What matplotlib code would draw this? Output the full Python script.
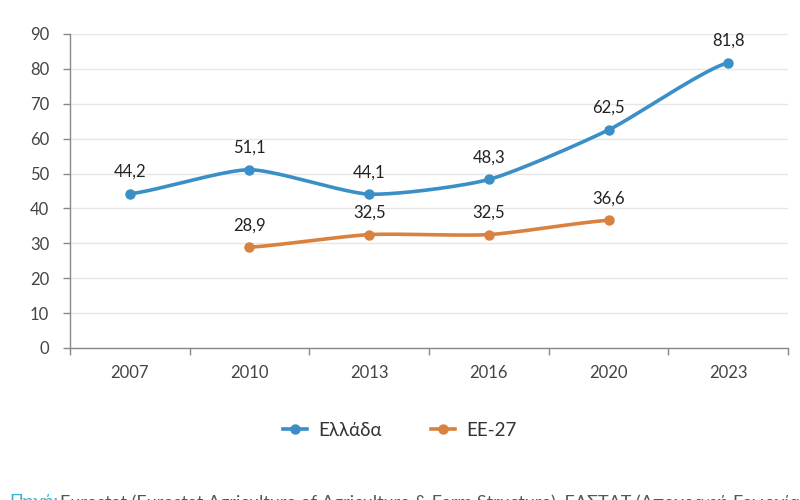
import numpy as np
import matplotlib
matplotlib.use("Agg")
import matplotlib.pyplot as plt
from matplotlib.lines import Line2D

years = ["2007", "2010", "2013", "2016", "2020", "2023"]
greece = [44.2, 51.1, 44.1, 48.3, 62.5, 81.8]
eu27 = [None, 28.9, 32.5, 32.5, 36.6, None]
series_names = ["Ελλάδα", "ΕΕ-27"]
colors = ["#3a8fc7", "#d9823f"]
yticks = [0, 10, 20, 30, 40, 50, 60, 70, 80, 90]

plt.rcParams['font.family'] = ['Lato', 'DejaVu Sans']

def smooth(xs, ys, n=40, tension=0.32):
    xs = np.asarray(xs, float); ys = np.asarray(ys, float)
    px = np.concatenate([[2*xs[0]-xs[1]], xs, [2*xs[-1]-xs[-2]]])
    py = np.concatenate([[ys[0]], ys, [ys[-1]]])
    outx, outy = [], []
    for i in range(1, len(px)-2):
        t = np.linspace(0, 1, n)
        p0, p1, p2, p3 = [np.array([px[j], py[j]]) for j in (i-1, i, i+1, i+2)]
        m1 = tension*(p2-p0); m2 = tension*(p3-p1)
        h00 = 2*t**3-3*t**2+1; h10 = t**3-2*t**2+t
        h01 = -2*t**3+3*t**2; h11 = t**3-t**2
        pts = np.outer(h00, p1)+np.outer(h10, m1)+np.outer(h01, p2)+np.outer(h11, m2)
        outx.extend(pts[:, 0]); outy.extend(pts[:, 1])
    return np.array(outx), np.array(outy)

fig = plt.figure(figsize=(8, 5), dpi=100)
ax = fig.add_axes([70/800, 1-348/500, 718/800, (348-34)/500])

x = np.arange(len(years))
for vals, name, c in zip([greece, eu27], series_names, colors):
    idx = [i for i, v in enumerate(vals) if v is not None]
    xv = x[idx]; yv = [vals[i] for i in idx]
    sx, sy = smooth(xv, yv)
    ax.plot(sx, sy, color=c, lw=2.6, solid_capstyle='round', zorder=3)
    ax.plot(xv, yv, 'o', color=c, ms=6.5, zorder=4)
    for xi, yi in zip(xv, yv):
        ax.annotate(f"{yi:.1f}".replace('.', ','), (xi, yi), xytext=(0, 10),
                    textcoords='offset points', ha='center', va='bottom',
                    fontsize=12, color='#222222', zorder=5)

ax.set_xlim(-0.5, len(years)-0.5)
ax.set_ylim(0, 90)
ax.set_yticks(yticks)
ax.set_yticklabels([str(v) for v in yticks], fontsize=12, color='#444444')
ax.set_xticks(x)
ax.set_xticklabels(years, fontsize=12, color='#444444')
ax.set_xticks(np.arange(-0.5, len(years)), minor=True)
ax.tick_params(axis='x', which='major', length=0, pad=12)
ax.tick_params(axis='x', which='minor', length=5, color='#888888', width=1)
ax.tick_params(axis='y', length=5, color='#888888', width=1, pad=10)
ax.yaxis.grid(True, color='#e6e6e6', lw=1)
ax.set_axisbelow(True)
for s in ['top', 'right']:
    ax.spines[s].set_visible(False)
for s in ['left', 'bottom']:
    ax.spines[s].set_color('#888888')
    ax.spines[s].set_linewidth(1)

handles = [Line2D([0], [0], color=c, lw=2.6, marker='o', ms=6.5) for c in colors]
fig.legend(handles, series_names, loc='center', bbox_to_anchor=(0.5, 1-430/500),
           ncol=2, frameon=False, fontsize=13.5, handlelength=1.3,
           handletextpad=0.6, columnspacing=2.6, labelcolor='#333333')

fig.text(0.012, 1-494/500, "Πηγή:", color='#3ab0d8', fontsize=13, va='top', ha='left')
fig.text(0.075, 1-494/500, "Eurostat (Eurostat Agriculture of Agriculture & Farm Structure), ΕΛΣΤΑΤ (Απογραφή Γεωργίας)",
         color='#555555', fontsize=13, va='top', ha='left')

fig.savefig("out.png", dpi=100)
